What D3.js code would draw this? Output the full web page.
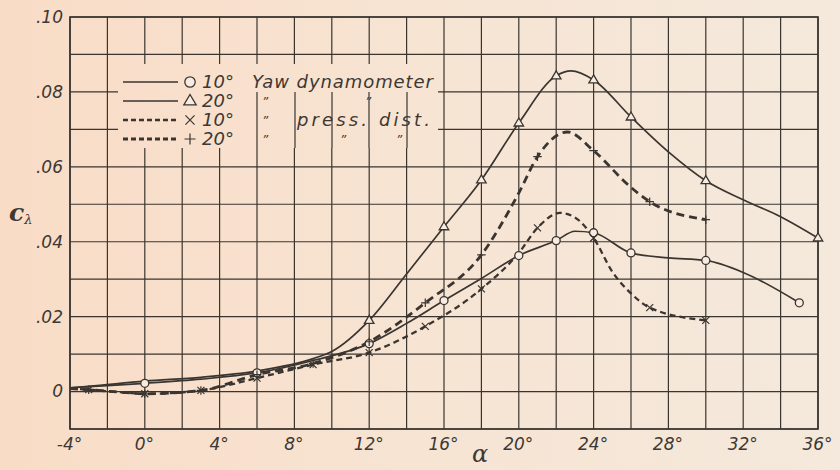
<!DOCTYPE html>
<html><head><meta charset="utf-8">
<script src="https://cdn.jsdelivr.net/npm/d3@7"></script>
<style>
html,body{margin:0;padding:0;background:#f6e4d4;}
svg{display:block;}
text{font-family:"DejaVu Sans",sans-serif;font-style:italic;fill:#3d3833;}
</style></head>
<body>
<svg id="chart" width="840" height="470"></svg>
<script>
// ---------------- data ----------------
const xTicks = [-4,0,4,8,12,16,20,24,28,32,36];
const xTickLabels = ["-4°","0°","4°","8°","12°","16°","20°","24°","28°","32°","36°"];
const yTicks = [0,0.02,0.04,0.06,0.08,0.10];
const yTickLabels = ["0",".02",".04",".06",".08",".10"];

// 10° yaw dynamometer (circles, solid)
const s1Alpha = [-4,-3,0,3,6,9,12,14,16,18,20,22,23,24,26,28,30,32,35];
const s1Value = [0.0010,0.0013,0.0022,0.0033,0.0050,0.0083,0.0128,0.0182,0.0243,0.0302,0.0363,0.0403,0.0428,0.0424,0.0370,0.0357,0.0350,0.0318,0.0237];
const s1Marks = [0,6,12,16,20,22,24,26,30,35];

// 20° yaw dynamometer (triangles, solid)
const s2Alpha = [-4,-3,0,3,6,9,10,12,14,16,18,20,22,22.8,24,26,28,30,32,34,36];
const s2Value = [0.0010,0.0014,0.0028,0.0038,0.0055,0.0088,0.0107,0.0190,0.0314,0.0440,0.0565,0.0717,0.0843,0.0856,0.0832,0.0733,0.0640,0.0563,0.0512,0.0467,0.0410];
const s2Marks = [12,16,18,20,22,24,26,30,36];

// 10° pressure distribution (x, dashed)
const s3Alpha = [-4,-3,-1,0,3,6,9,12,15,18,20,21,22.2,23,24,25,26,27,30];
const s3Value = [0.0008,0.0005,-0.0003,-0.0006,0.0003,0.0036,0.0072,0.0104,0.0174,0.0274,0.0370,0.0437,0.0477,0.0465,0.0410,0.0320,0.0262,0.0224,0.0190];
const s3Marks = [-3,0,3,6,9,12,15,18,21,24,27,30];

// 20° pressure distribution (+, dashed)
const s4Alpha = [-4,-3,-1,0,3,6,9,12,15,18,20,21,22.6,24,26,27,30];
const s4Value = [0.0008,0.0005,-0.0003,-0.0006,0.0003,0.0045,0.0075,0.0133,0.0237,0.0365,0.0530,0.0627,0.0693,0.0643,0.0545,0.0507,0.0459];
const s4Marks = [-3,0,3,6,9,12,15,18,21,24,27,30];

const legendAngles = ["10°","20°","10°","20°"];

// ---------------- drawing ----------------
const svg = d3.select("#chart");
const W = 840, H = 470;
const ink = "#3a3530";

const defs = svg.append("defs");
const grad = defs.append("linearGradient").attr("id","paper")
  .attr("gradientUnits","userSpaceOnUse").attr("x1",0).attr("y1",0).attr("x2",W).attr("y2",0);
grad.append("stop").attr("offset",0).attr("stop-color","#f9dcc6");
grad.append("stop").attr("offset",0.5).attr("stop-color","#f7e4d3");
grad.append("stop").attr("offset",1).attr("stop-color","#f4e9dc");
svg.append("rect").attr("width",W).attr("height",H).attr("fill","url(#paper)");

const x = d3.scaleLinear().domain([-4,36]).range([70,818]);
const y = d3.scaleLinear().domain([-0.01,0.10]).range([429,17]);

// grid
const gGrid = svg.append("g");
gGrid.selectAll("line.v").data(d3.range(-4,36.01,2)).join("line")
  .attr("x1",d=>x(d)).attr("x2",d=>x(d)).attr("y1",y(-0.01)).attr("y2",y(0.10))
  .attr("stroke",ink).attr("stroke-width",1.2);
gGrid.selectAll("line.h").data(d3.range(-1,10.01,1).map(d=>d/100)).join("line")
  .attr("x1",x(-4)).attr("x2",x(36)).attr("y1",d=>y(d)).attr("y2",d=>y(d))
  .attr("stroke",ink).attr("stroke-width",1.2);
svg.append("rect").attr("x",x(-4)).attr("y",y(0.10)).attr("width",x(36)-x(-4)).attr("height",y(-0.01)-y(0.10))
  .attr("fill","none").attr("stroke",ink).attr("stroke-width",1.6);

// axes
const xAxis = d3.axisBottom(x).tickValues(xTicks).tickSize(0).tickPadding(9)
  .tickFormat((d,i)=>xTickLabels[i]);
const gx = svg.append("g").attr("transform",`translate(0,${y(-0.01)})`).call(xAxis);
gx.select(".domain").remove();
gx.selectAll("text").attr("font-size",17).attr("dy","0.71em").attr("dx",-1)
  .style("font-family","DejaVu Sans").style("font-style","italic").attr("fill","#3d3833");

const yAxis = d3.axisLeft(y).tickValues(yTicks).tickSize(0).tickPadding(7)
  .tickFormat((d,i)=>yTickLabels[i]);
const gy = svg.append("g").attr("transform",`translate(${x(-4)},0)`).call(yAxis);
gy.select(".domain").remove();
gy.selectAll("text").attr("font-size",17)
  .style("font-family","DejaVu Sans").style("font-style","italic").attr("fill","#3d3833");

// axis titles
const yl = svg.append("text").attr("x",9).attr("y",221);
yl.append("tspan").text("c").attr("font-size",25).style("font-family","DejaVu Serif").style("font-weight","bold");
yl.append("tspan").text("λ").attr("font-size",13).attr("dy",3).style("font-family","DejaVu Serif");
svg.append("text").attr("x",480).attr("y",462).attr("text-anchor","middle")
  .attr("font-size",24).style("font-family","DejaVu Serif").text("α");

// series
const series = [
  {a:s1Alpha, v:s1Value, m:s1Marks, dash:null, w:1.7, mark:"circle"},
  {a:s2Alpha, v:s2Value, m:s2Marks, dash:null, w:1.7, mark:"triangle"},
  {a:s3Alpha, v:s3Value, m:s3Marks, dash:"6,4", w:2.3, mark:"x"},
  {a:s4Alpha, v:s4Value, m:s4Marks, dash:"8,5", w:2.8, mark:"plus"}
];
const line = d3.line().x(d=>x(d[0])).y(d=>y(d[1])).curve(d3.curveMonotoneX);

function drawMarker(g, kind, cx, cy, s){
  if(kind==="circle"){
    g.append("circle").attr("cx",cx).attr("cy",cy).attr("r",s*0.8)
      .attr("fill","#f8ece2").attr("stroke",ink).attr("stroke-width",1.3);
  } else if(kind==="triangle"){
    const r=s;
    g.append("path").attr("d",`M${cx},${cy-r}L${cx+r*0.95},${cy+r*0.6}L${cx-r*0.95},${cy+r*0.6}Z`)
      .attr("fill","#f8ece2").attr("stroke",ink).attr("stroke-width",1.3);
  } else if(kind==="x"){
    const r=s*0.7;
    g.append("path").attr("d",`M${cx-r},${cy-r}L${cx+r},${cy+r}M${cx-r},${cy+r}L${cx+r},${cy-r}`)
      .attr("stroke",ink).attr("stroke-width",1.2).attr("fill","none");
  } else {
    const r=s*0.85;
    g.append("path").attr("d",`M${cx-r},${cy}L${cx+r},${cy}M${cx},${cy-r}L${cx},${cy+r}`)
      .attr("stroke",ink).attr("stroke-width",1.2).attr("fill","none");
  }
}

const gS = svg.append("g");
series.forEach(s=>{
  const pts = s.a.map((a,i)=>[a,s.v[i]]);
  gS.append("path").attr("d",line(pts)).attr("fill","none").attr("stroke",ink)
    .attr("stroke-width",s.w).attr("stroke-dasharray",s.dash);
});
series.forEach(s=>{
  s.m.forEach(a=>{
    const i = s.a.indexOf(a);
    drawMarker(gS, s.mark, x(a), y(s.v[i]), 5);
  });
});

// legend
const gL = svg.append("g");
gL.append("rect").attr("x",118).attr("y",64).attr("width",320).attr("height",84).attr("fill","url(#paper)");
[257,295,332,369,407].forEach(px=>{
  gL.append("line").attr("x1",px).attr("x2",px).attr("y1",92).attr("y2",148).attr("stroke",ink).attr("stroke-width",1.2);
});
const rows = [82,101,120,139];
const legTexts = [
  [[252,"Yaw dynamometer",181]],
  [[262,"\u201D"],[365,"\u201D"]],
  [[262,"\u201D"],[297,"press. dist.",133]],
  [[262,"\u201D"],[340,"\u201D"],[396,"\u201D"]]
];
series.forEach((s,i)=>{
  const cy = rows[i];
  gL.append("line").attr("x1",123).attr("x2",178).attr("y1",cy).attr("y2",cy)
    .attr("stroke",ink).attr("stroke-width",s.w).attr("stroke-dasharray",s.dash?"5,3":null);
  drawMarker(gL, s.mark, 190, cy, 6.5);
  gL.append("text").attr("x",202).attr("y",cy+6).attr("font-size",18).text(legendAngles[i]);
  legTexts[i].forEach(([tx,t,len])=>{
    if(len){
      gL.append("text").attr("x",tx).attr("y",cy+6).attr("font-size",18)
        .attr("textLength",len).attr("lengthAdjust","spacing").text(t);
    } else {
      gL.append("text").attr("x",tx).attr("y",cy+5).attr("font-size",12).text(t);
    }
  });
});
</script>
</body></html>
